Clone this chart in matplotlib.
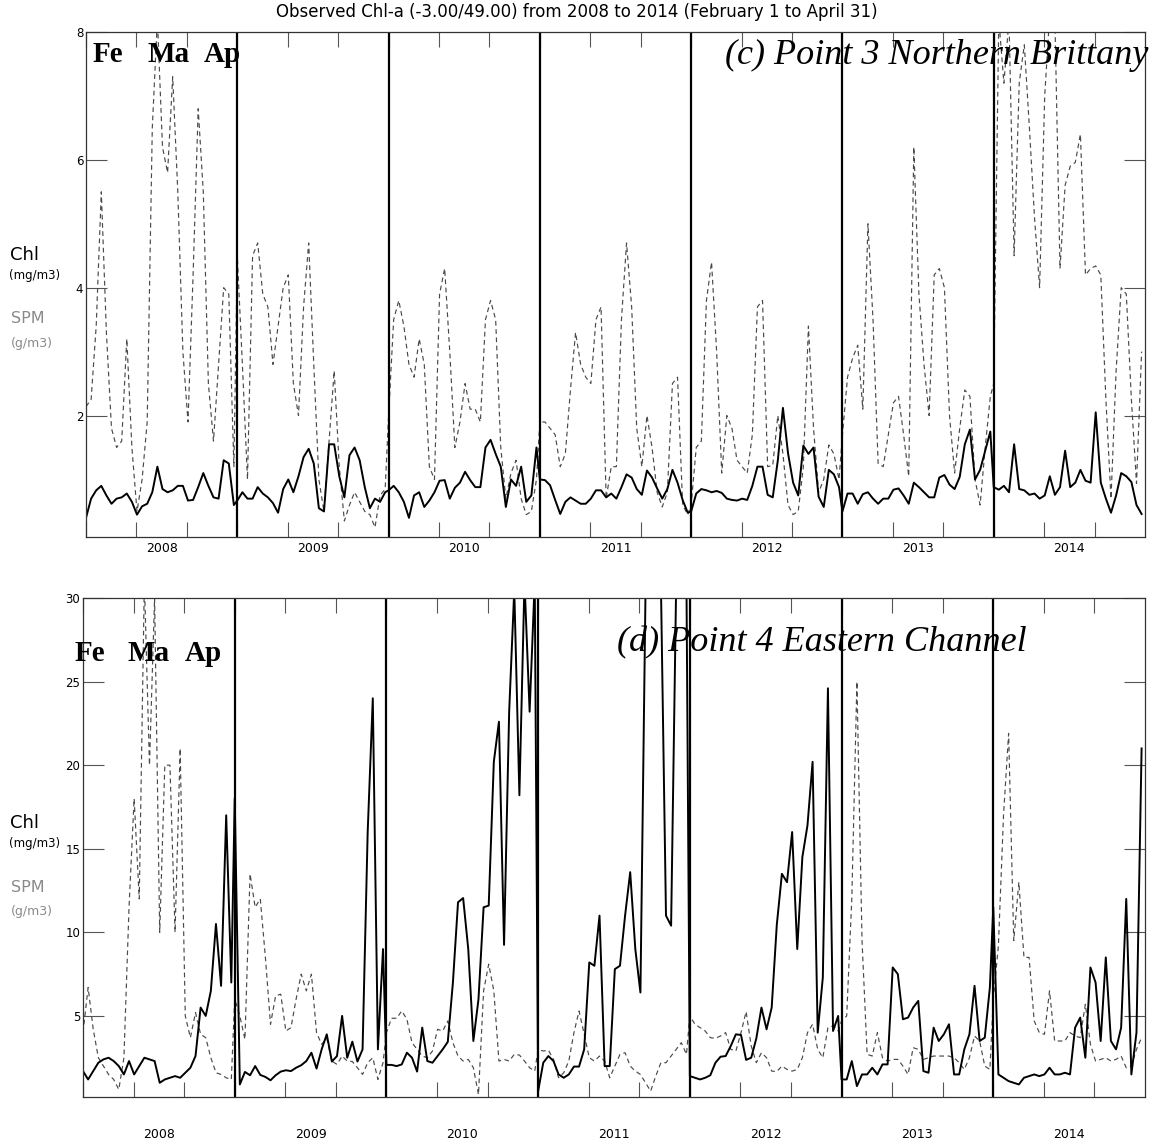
import numpy as np
import matplotlib
matplotlib.use("Agg")
import matplotlib.pyplot as plt
from matplotlib.transforms import blended_transform_factory

# ---------------- data (values every 3 days, Feb 1 .. Apr 30) ----------------
years = ["2008", "2009", "2010", "2011", "2012", "2013", "2014"]
days_per_year = 89
step_days = 3

# Panel (c) Point 3 Northern Brittany
chl_c_2008 = [0.40,0.70,0.83,0.90,0.75,0.62,0.70,0.72,0.78,0.65,0.45,0.58,0.62,0.80,1.20,0.85,0.80,0.83,0.90,0.90,0.67,0.68,0.88,1.10,0.90,0.72,0.70,1.30,1.25,0.60]
chl_c_2009 = [0.67,0.80,0.70,0.70,0.88,0.78,0.72,0.63,0.48,0.85,1.00,0.80,1.05,1.35,1.48,1.25,0.55,0.50,1.55,1.55,1.05,0.72,1.38,1.50,1.30,0.88,0.55,0.70,0.65,0.80]
chl_c_2010 = [0.83,0.90,0.80,0.65,0.40,0.75,0.80,0.57,0.67,0.80,0.98,0.99,0.70,0.87,0.95,1.12,0.99,0.88,0.88,1.50,1.62,1.40,1.20,0.57,1.00,0.90,1.20,0.65,0.75,1.50]
chl_c_2011 = [1.00,0.99,0.91,0.68,0.46,0.65,0.72,0.67,0.62,0.62,0.70,0.83,0.83,0.72,0.78,0.70,0.88,1.08,1.03,0.85,0.76,1.14,1.03,0.86,0.70,0.85,1.15,0.95,0.68,0.48]
chl_c_2012 = [0.50,0.78,0.85,0.83,0.80,0.82,0.79,0.70,0.68,0.67,0.70,0.68,0.90,1.20,1.20,0.76,0.72,1.30,2.12,1.41,0.95,0.75,1.53,1.40,1.50,0.73,0.57,1.15,1.08,0.88]
chl_c_2013 = [0.50,0.78,0.78,0.62,0.77,0.80,0.70,0.62,0.70,0.70,0.84,0.86,0.75,0.62,0.95,0.88,0.80,0.72,0.72,1.03,1.07,0.92,0.85,1.04,1.55,1.78,1.00,1.15,1.45,1.75]
chl_c_2014 = [0.88,0.84,0.90,0.80,1.55,0.85,0.83,0.76,0.78,0.70,0.75,1.05,0.76,0.88,1.45,0.88,0.95,1.15,0.98,0.95,2.05,0.95,0.70,0.48,0.75,1.10,1.05,0.96,0.60,0.46]

spm_c_2008 = [2.14,2.25,3.4,5.5,3.3,1.8,1.5,1.6,3.2,1.5,0.5,1.0,1.9,6.5,8.2,6.2,5.8,7.3,5.5,3.0,1.9,4.2,6.8,5.5,2.5,1.6,2.8,4.0,3.9,1.2]
spm_c_2009 = [4.5,2.8,1.0,4.5,4.7,3.9,3.7,2.8,3.4,4.0,4.2,2.5,2.0,3.7,4.7,2.8,1.0,0.5,1.6,2.7,1.2,0.35,0.6,0.8,0.65,0.5,0.45,0.25,0.75,0.85]
spm_c_2010 = [2.0,3.5,3.8,3.4,2.8,2.6,3.2,2.8,1.2,1.0,3.9,4.3,3.0,1.5,1.9,2.5,2.1,2.1,1.9,3.5,3.8,3.5,1.5,0.7,1.1,1.3,0.7,0.45,0.5,1.0]
spm_c_2011 = [1.9,1.9,1.8,1.7,1.2,1.4,2.4,3.3,2.8,2.6,2.5,3.5,3.7,0.7,1.2,1.2,3.5,4.7,3.7,1.8,1.2,2.0,1.5,0.8,0.57,0.8,2.5,2.6,0.6,0.45]
spm_c_2012 = [0.6,1.5,1.6,3.8,4.4,3.0,1.1,2.0,1.8,1.3,1.2,1.1,1.7,3.7,3.8,1.2,1.22,2.0,1.4,0.6,0.45,0.5,1.2,3.4,1.8,0.8,1.0,1.54,1.4,1.0]
spm_c_2013 = [1.7,2.6,2.9,3.1,2.1,5.0,3.5,1.25,1.2,1.7,2.2,2.3,1.7,1.05,6.2,3.9,2.8,2.0,4.2,4.3,4.0,2.0,1.1,1.8,2.4,2.3,1.0,0.6,1.5,2.3]
spm_c_2014 = [2.5,8.2,7.2,8.2,4.5,7.2,7.8,6.5,5.1,4.0,7.0,8.3,8.2,4.3,5.6,5.9,5.96,6.4,4.2,4.3,4.34,4.2,2.25,0.7,2.7,4.0,3.9,2.25,0.94,3.0]

# Panel (d) Point 4 Eastern Channel
chl_d_2008 = [1.7,1.2,1.7,2.2,2.4,2.5,2.3,2.0,1.5,2.3,1.5,2.0,2.5,2.4,2.3,1.0,1.2,1.3,1.4,1.3,1.6,1.9,2.6,5.5,5.0,6.5,10.5,6.8,17.0,7.0]
chl_d_2009 = [18.0,0.9,1.65,1.45,2.0,1.47,1.35,1.15,1.45,1.67,1.75,1.7,1.9,2.05,2.3,2.8,1.85,3.0,3.9,2.27,2.6,5.0,2.5,3.46,2.27,3.0,16.0,24.0,3.0,9.0]
chl_d_2010 = [2.07,2.07,2.0,2.1,2.8,2.5,1.67,4.3,2.3,2.2,2.6,3.0,3.45,7.0,11.8,12.05,9.0,3.5,6.0,11.5,11.6,20.2,22.6,9.25,23.2,30.5,18.2,31.0,23.2,31.0]
chl_d_2011 = [0.5,2.2,2.6,2.3,1.5,1.3,1.5,1.97,1.97,3.0,8.2,8.0,11.0,2.0,2.0,7.8,8.0,11.0,13.6,9.0,6.4,30.5,31.0,31.0,31.0,11.0,10.4,31.0,31.0,31.0]
chl_d_2012 = [1.4,1.3,1.2,1.3,1.45,2.2,2.56,2.6,3.2,3.9,3.86,2.37,2.5,3.66,5.5,4.2,5.5,10.45,13.5,13.0,16.0,9.0,14.5,16.4,20.2,4.0,7.3,24.6,4.1,5.0]
chl_d_2013 = [1.2,1.2,2.3,0.8,1.5,1.5,1.9,1.5,2.1,2.1,7.9,7.5,4.8,4.9,5.5,5.9,1.7,1.6,4.3,3.5,3.9,4.5,1.5,1.5,3.0,3.9,6.8,3.5,3.7,6.7]
chl_d_2014 = [11.5,1.5,1.3,1.1,1.0,0.9,1.3,1.4,1.5,1.4,1.5,1.9,1.5,1.5,1.6,1.5,4.3,4.9,2.5,7.9,7.0,3.5,8.5,3.5,3.0,4.3,12.0,1.5,4.0,21.0]

spm_d_2008 = [4.0,6.7,4.2,2.5,2.0,1.5,1.2,0.6,2.5,11.5,18.0,12.0,31.0,20.0,30.0,10.0,20.0,20.0,10.0,21.0,5.0,3.7,5.2,3.9,3.7,2.5,1.6,1.5,1.3,1.2]
spm_d_2009 = [6.0,5.0,3.6,13.5,11.5,12.0,8.5,4.5,6.2,6.3,4.1,4.3,6.0,7.5,6.5,7.5,4.0,3.3,3.66,2.3,2.1,2.6,2.3,2.27,1.9,1.5,2.2,2.5,1.2,2.2]
spm_d_2010 = [4.0,4.86,4.86,5.3,4.8,3.4,3.0,2.6,2.5,2.9,4.2,4.1,4.7,3.4,2.6,2.3,2.4,1.9,0.3,6.5,8.1,6.5,2.3,2.4,2.3,2.7,2.66,2.3,1.9,1.7]
spm_d_2011 = [3.0,2.9,2.95,2.4,1.3,1.6,2.3,4.0,5.3,3.9,2.5,2.3,2.6,2.3,1.3,2.0,2.7,2.8,2.0,1.7,1.5,1.0,0.5,1.4,2.2,2.2,2.6,3.0,3.4,2.7]
spm_d_2012 = [5.0,4.5,4.3,4.1,3.7,3.66,3.8,4.0,3.0,2.9,4.0,5.26,3.2,2.2,2.8,2.5,1.7,1.67,2.0,1.8,1.7,1.8,2.5,4.0,4.5,3.0,2.5,4.3,4.4,4.1]
spm_d_2013 = [4.7,5.0,12.0,25.0,9.5,2.7,2.6,4.0,2.5,2.3,2.4,2.4,2.0,1.5,3.1,3.0,2.4,2.5,2.6,2.6,2.6,2.6,2.5,2.2,1.8,2.5,3.8,3.5,2.0,1.8]
spm_d_2014 = [6.0,9.2,17.0,21.9,9.5,13.0,8.5,8.5,4.7,4.0,3.9,6.5,3.5,3.5,3.5,4.0,3.8,3.7,5.7,3.3,2.3,2.4,2.5,2.3,2.4,2.6,1.9,2.0,3.0,3.7]

chl_c = [chl_c_2008, chl_c_2009, chl_c_2010, chl_c_2011, chl_c_2012, chl_c_2013, chl_c_2014]
spm_c = [spm_c_2008, spm_c_2009, spm_c_2010, spm_c_2011, spm_c_2012, spm_c_2013, spm_c_2014]
chl_d = [chl_d_2008, chl_d_2009, chl_d_2010, chl_d_2011, chl_d_2012, chl_d_2013, chl_d_2014]
spm_d = [spm_d_2008, spm_d_2009, spm_d_2010, spm_d_2011, spm_d_2012, spm_d_2013, spm_d_2014]

yticks_c = [2, 4, 6, 8]
yticks_d = [5, 10, 15, 20, 25, 30]

title = "Observed Chl-a (-3.00/49.00) from 2008 to 2014 (February 1 to April 31)"


def series(per_year):
    xs, ys = [], []
    for k, vals in enumerate(per_year):
        for i, v in enumerate(vals):
            xs.append(k * days_per_year + i * step_days)
            ys.append(v)
    return np.array(xs), np.array(ys)


W, H = 1153, 1145
fig = plt.figure(figsize=(W / 100, H / 100), dpi=100)


def fx(x):
    return x / W


def fy(y):
    return 1 - y / H


ax1 = fig.add_axes([fx(86), fy(537), 1059 / W, 505 / H])
ax2 = fig.add_axes([fx(83), fy(1097), 1062 / W, 499 / H])

ntot = len(years) * days_per_year
spm_col = "#4a4a4a"

for ax, chl, spm, ylim, yt in [(ax1, chl_c, spm_c, (0.1, 8), yticks_c),
                                (ax2, chl_d, spm_d, (0.15, 30), yticks_d)]:
    xs, ys = series(spm)
    ax.plot(xs, ys, color=spm_col, lw=0.85, dashes=(4, 3))
    xs, ys = series(chl)
    ax.plot(xs, ys, color="black", lw=1.4)
    for k in range(1, len(years)):
        ax.axvline(k * days_per_year, color="black", lw=1.6)
    ax.set_xlim(0, ntot)
    ax.set_ylim(*ylim)
    month_ticks = [k * days_per_year + j * days_per_year / 3
                   for k in range(len(years)) for j in range(3)]
    ax.set_xticks(month_ticks)
    ax.set_xticklabels([])
    ax.set_yticks(yt)
    ax.set_yticklabels([str(v) for v in yt], fontsize=8.5)
    ax.tick_params(axis="x", direction="in", length=11, width=0.8,
                   top=True, bottom=True, color="#555555")
    ax.tick_params(axis="y", direction="in", length=15, width=0.8,
                   left=True, right=True, pad=2, color="#555555")
    for sp in ax.spines.values():
        sp.set_linewidth(0.9)
        sp.set_color("#333333")
    tr = blended_transform_factory(ax.transData, fig.transFigure)
    label_y = fy(548) if ax is ax1 else fy(1135)
    for k, yr in enumerate(years):
        ax.text(k * days_per_year + days_per_year / 2, label_y, yr,
                transform=tr, ha="center", va="center", fontsize=9)

fig.text(0.5, fy(12), title, ha="center", va="center", fontsize=12)

# Left labels
for base in (255, 823):
    fig.text(fx(10), fy(base), "Chl", fontsize=13, va="center", ha="left")
    fig.text(fx(9), fy(base + 21), "(mg/m3)", fontsize=8.5, va="center", ha="left")
    fig.text(fx(11), fy(base + 64), "SPM", fontsize=11.5, va="center", ha="left", color="#8a8a8a")
    fig.text(fx(11), fy(base + 88), "(g/m3)", fontsize=9, va="center", ha="left", color="#8a8a8a")

serif = ["Liberation Serif", "DejaVu Serif"]
# Month labels
for (xf, xm, xa, yb) in [(93, 147, 204, 62), (75, 128, 185, 661)]:
    for x, s in [(xf, "Fe"), (xm, "Ma"), (xa, "Ap")]:
        fig.text(fx(x), fy(yb), s, family=serif, weight="bold", fontsize=21,
                 ha="left", va="baseline")

fig.text(fx(1148), fy(64), "(c) Point 3 Northern Brittany", family=serif,
         style="italic", fontsize=26, ha="right", va="baseline")
fig.text(fx(617), fy(651), "(d) Point 4 Eastern Channel", family=serif,
         style="italic", fontsize=26, ha="left", va="baseline")

fig.savefig("out.png", dpi=100)
